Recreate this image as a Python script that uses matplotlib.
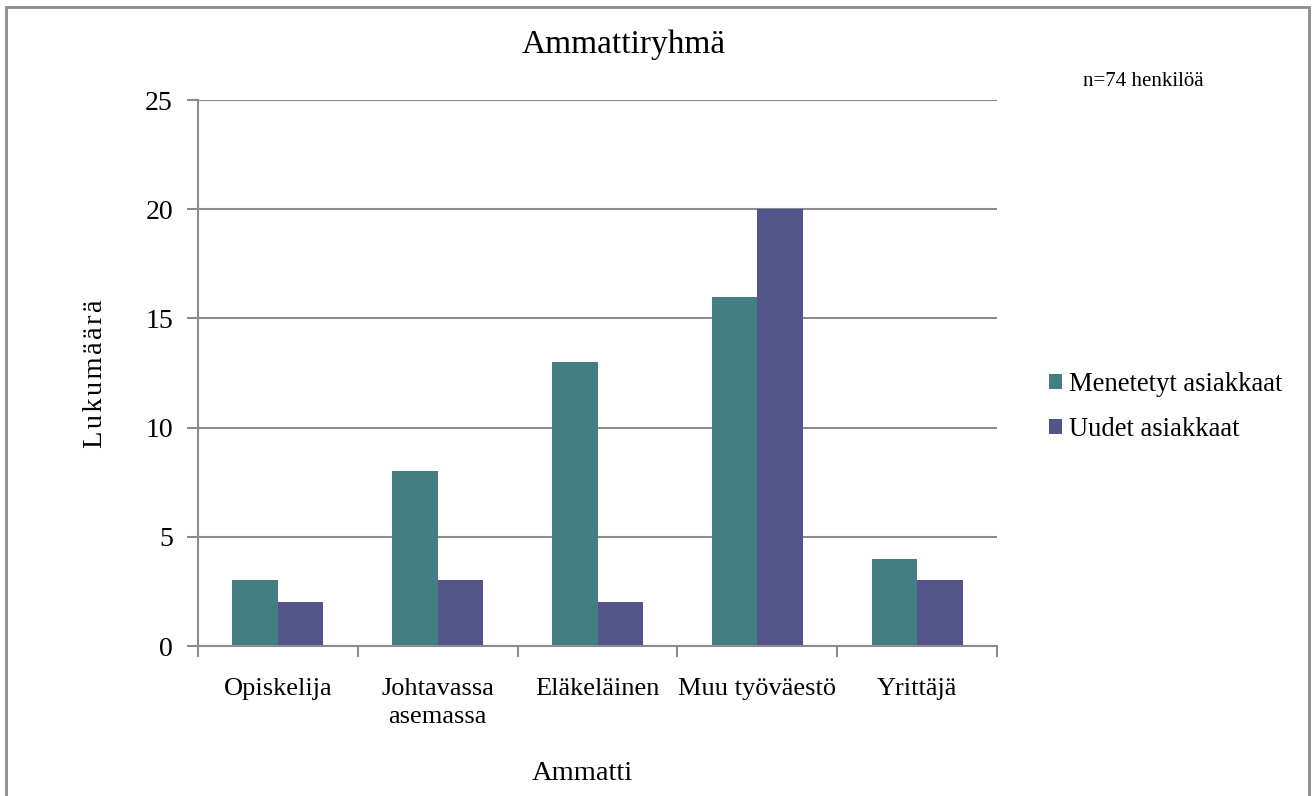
import matplotlib.pyplot as plt
import numpy as np
from matplotlib.patches import Rectangle

plt.rcParams["font.family"] = ["Liberation Serif", "DejaVu Serif"]

categories = ["Opiskelija", "Johtavassa\nasemassa", "Eläkeläinen", "Muu työväestö", "Yrittäjä"]
menetetyt = [3, 8, 13, 16, 4]
uudet = [2, 3, 2, 20, 3]

teal = "#437E82"
purple = "#53548A"
grey = "#8C8C8C"

fig = plt.figure(figsize=(13.14, 7.96), dpi=100)
ax = fig.add_axes([198 / 1314, 1 - 646 / 796, (997 - 198) / 1314, (646 - 100) / 796])

x = np.arange(len(categories))
w = 0.285
ax.bar(x - w / 2, menetetyt, w, color=teal, label="Menetetyt asiakkaat")
ax.bar(x + w / 2, uudet, w, color=purple, label="Uudet asiakkaat")

ax.set_xlim(-0.5, len(categories) - 0.5)
ax.set_ylim(0, 25)
ax.set_yticks(range(0, 26, 5))
ax.tick_params(axis="y", labelsize=20, length=8, color=grey, width=1.5, pad=10)
ax.set_xticks(x)
ax.set_xticklabels(categories, fontsize=19, linespacing=1.35)
ax.tick_params(axis="x", length=0, pad=23)
ax.set_xticks(np.arange(-0.5, len(categories)), minor=True)
ax.tick_params(axis="x", which="minor", length=8, color=grey, width=1.5)

ax.grid(axis="y", color=grey, linewidth=1.5)
ax.set_axisbelow(True)
for side in ["top", "right"]:
    ax.spines[side].set_visible(False)
for side in ["left", "bottom"]:
    ax.spines[side].set_color(grey)
    ax.spines[side].set_linewidth(1.5)

fig.text(624 / 1314, 1 - 45 / 796, "Ammattiryhmä", fontsize=24, ha="center", va="center")
fig.text(1143 / 1314, 1 - 82 / 796, "n=74 henkilöä", fontsize=15, ha="center", va="center")
fig.text(582 / 1314, 1 - 773 / 796, "Ammatti", fontsize=20.5, ha="center", va="center")
fig.text(96 / 1314, 1 - 374 / 796, "\u200a".join("Lukumäärä"), fontsize=20.5,
         rotation=90, ha="center", va="center")

fig.legend(loc="center left", bbox_to_anchor=(1025 / 1314, 1 - 407 / 796), frameon=False,
           fontsize=19.2, handlelength=0.5, handleheight=0.5, handletextpad=0.25,
           labelspacing=0.75)

fig.add_artist(Rectangle((6 / 1314, -0.02), (1309 - 6) / 1314, (796 - 7) / 796 + 0.02,
                         transform=fig.transFigure, fill=False, edgecolor=grey, linewidth=2))

fig.savefig("out.png", dpi=100)
